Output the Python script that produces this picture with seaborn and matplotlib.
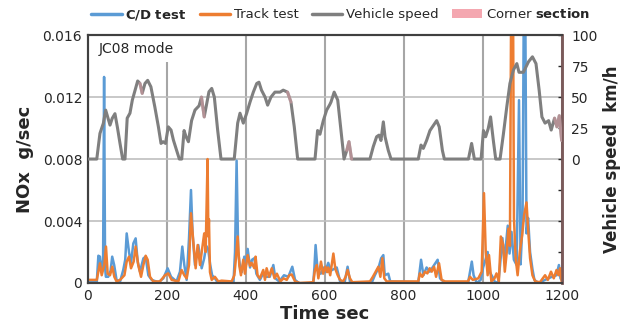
import matplotlib
matplotlib.use("Agg")
import matplotlib.pyplot as plt
from matplotlib.lines import Line2D
from matplotlib.patches import Patch, Rectangle
import seaborn as sns
import pandas as pd

# ---------------- data ----------------
speed_t = [0, 23, 31, 39.6, 45.5, 50.5, 56.5, 62, 69, 75, 81.8, 88.5, 94.4, 100, 107, 113, 120, 126.5, 132.4, 138,
           145, 151.8, 160, 170, 179, 185.6, 191, 197, 204, 211, 217, 225, 232, 238, 244, 249, 255, 263, 271.6, 282,
           288, 295, 301, 307, 314, 320.6, 329, 337.5, 371, 379.7, 385.6, 394, 402.5, 411, 419.3, 428, 433.6, 440,
           449, 455.6, 464, 474, 487, 495, 506, 514.6, 523, 531.6, 575.5, 582, 588, 596.5, 605, 613, 616, 624, 633,
           641, 649, 656, 661.5, 668, 714.6, 723, 731.5, 737.5, 742.5, 748.5, 752.8, 761, 768, 837, 843.8, 849.7,
           858, 866.5, 875, 883.5, 890, 898, 903, 964, 972, 979, 996, 1002, 1007.5, 1014, 1020, 1027, 1033, 1044,
           1052.4, 1061, 1069, 1078, 1086.5, 1092, 1103, 1116, 1126, 1135, 1143, 1150, 1158, 1167, 1173.5, 1182,
           1188, 1194, 1200]
speed_v = [0, 0, 20.7, 28.8, 39.5, 34, 27.4, 32.8, 36.6, 26, 12.6, 0, 0, 33, 37, 47.6, 55.6, 63, 61, 53,
           61, 63.5, 58.3, 42, 26, 12.6, 14, 12.6, 26, 23.4, 15.3, 7, 0, 0, 23, 18, 14, 31, 39.5, 43,
           50, 34, 44, 54.3, 57, 50, 23.4, 0, 0, 29, 37, 29, 37, 46, 54, 61, 62, 55.6,
           50, 43.5, 50, 54, 54, 55.6, 54, 46, 26, 0, 0, 23, 20, 31, 39.5, 44, 46, 54, 47.6,
           23.4, 0, 7, 14, 0, 0, 10, 18, 19.3, 15, 30, 18, 7, 0, 0, 11.3, 8.6,
           15, 23, 27, 31, 26, 7, 0, 0, 12.6, 0, 0, 23, 18, 24.5, 34, 15, 0, 0,
           20, 42, 61, 72, 77, 70, 70, 78.5, 82.5, 77, 55.6, 34, 29, 31, 23.4, 33,
           26, 35, 15]

# C/D test NOx, units of 1e-3 g/sec
cd_t = [0, 23, 27, 31, 35, 39, 41.5, 44, 46, 52, 58, 62, 67, 73, 82, 90, 95, 98.7, 104.6, 109.6, 115.5, 121.4,
        126.5, 132.4, 141, 146.7, 153.5, 162, 179, 191.5, 202.4, 211, 225, 233.6, 239.5, 244.6, 250.5, 256.5,
        261.5, 265.7, 271.6, 280, 288.5, 295, 300, 305, 310, 315, 322, 330, 369, 373, 377, 381, 386, 390, 396.5,
        401, 405, 411, 416, 422, 427, 436, 444, 452, 461, 470, 475, 485, 497, 508, 518, 525, 537, 571, 574, 577,
        582, 590, 598, 601, 609, 616, 630.5, 639, 651, 658, 664, 675, 718, 727, 736, 743, 748.5, 752, 761, 766,
        837, 844, 850, 858, 866, 877, 886, 892, 905, 963, 972.5, 977, 985, 995, 1001, 1006, 1012.6, 1018, 1027,
        1032, 1040, 1044, 1050, 1055, 1063.5, 1068, 1073, 1079, 1086, 1092, 1096, 1101, 1104, 1108, 1111, 1115,
        1120, 1126, 1131, 1141, 1158, 1175, 1187, 1193, 1197, 1200]
cd_v = [0.05, 0.05, 1.76, 1.7, 0.7, 1.5, 13.3, 1.0, 0.4, 0.4, 0.8, 1.7, 1.16, 0.2, 0.1, 0.84, 1.5, 3.2, 2.0, 1.27,
        2.55, 2.88, 1.38, 0.73, 1.59, 1.7, 0.5, 0.2, 0.05, 0.3, 0.95, 0.4, 0.1, 0.73, 2.35, 1.16, 0.2, 2.88,
        6.0, 3.1, 1.16, 2.45, 0.95, 1.6, 2.4, 2.2, 1.2, 0.5, 0.3, 0.0, 0.0, 2.0, 7.9, 2.0, 1.0, 0.7, 1.7,
        1.2, 2.2, 1.0, 1.5, 1.6, 0.6, 0.2, 0.6, 0.4, 0.4, 1.16, 0.3, 0.1, 0.5, 0.4, 1.05, 0.2, -0.05, -0.05, 1.0,
        2.45, 0.8, 0.6, 1.0, 0.7, 1.3, 0.8, 1.0, 0.1, 0.1, 1.05, 0.1, -0.05, -0.05, 0.5, 0.95, 1.6, 1.8, 0.5,
        0.6, 0.1, 0.05, 1.5, 0.5, 1.0, 0.73, 1.16, 1.5, 0.3, 0.0, 0.0, 1.38, 0.5, 0.0, 0.2, 1.0, 1.4, 2.0, 0.7,
        0.3, 0.0, 0.1, 1.16, 2.9, 1.4, 3.7, 1.9, 3.3, 1.5, 1.16, 11.8, 1.2, 4.0, 17.5, 17.5, 3.2, 4.2, 2.0, 0.9,
        0.2, 0.0, 0.2, 0.4, 0.5, 1.16, 0.3, 0.2]

# Track test NOx, units of 1e-3 g/sec
tr_t = [0, 23, 27, 31, 35.4, 42, 46.3, 50.5, 56.5, 62.3, 67.4, 73, 82, 93, 98.7, 104.6, 109.6, 116.4, 121.4, 128,
        135, 141, 146.7, 151.8, 157.7, 166, 183, 195.7, 204, 212.6, 229.5, 237.8, 244.6, 250.5, 256.5, 261.5,
        267.4, 273.3, 278.4, 284.3, 290, 295, 298.6, 303.5, 305.5, 307, 309.6, 314, 322, 330.7, 339, 364.5,
        371.3, 375, 379.7, 384, 388, 394, 398, 405, 411, 415, 422, 425, 430, 436, 444.5, 448.8, 453, 459, 466,
        473, 479, 487.8, 496, 504, 510, 516.4, 525, 537.5, 571, 575.4, 580, 584, 590.6, 596, 602, 606, 609, 614,
        622, 627, 633, 639, 647, 653, 658, 664, 670, 714.6, 722, 729, 736, 741, 746, 751, 757, 837, 841, 847,
        854, 860, 866, 871, 877, 882, 889.5, 896, 905, 963, 968, 975, 989, 997.5, 1003.3, 1007.7, 1012.6, 1016,
        1022, 1030, 1035, 1041, 1046, 1052, 1056, 1061, 1065, 1069, 1072, 1077, 1079.2, 1083.5, 1088.5, 1094,
        1100, 1105, 1111, 1115, 1120, 1126, 1133, 1145, 1158, 1165, 1173, 1180, 1187, 1192, 1196, 1200]
tr_v = [0.2, 0.2, 0.73, 1.27, 0.5, 1.16, 2.35, 0.6, 0.5, 1.05, 0.4, 0.1, 0.2, 0.5, 1.38, 1.7, 0.95, 1.38, 2.35, 1.16,
        0.4, 1.16, 1.76, 1.5, 0.4, 0.1, 0.1, 0.5, 0.62, 0.2, 0.1, 0.84, 0.5, 0.3, 1.16, 4.5,
        2.67, 0.95, 2.45, 1.16, 2.25, 3.2, 2.0, 8.0, 3.0, 4.1, 0.7, 0.2, 0.4, 0.1, 0.15, 0.1,
        0.5, 1.5, 3.0, 1.1, 0.5, 1.5, 0.6, 1.8, 1.1, 1.3, 0.95, 1.7, 0.5, 0.3, 0.84, 0.2, 0.95, 0.4, 0.95,
        0.3, 0.6, 0.1, 0.3, 0.2, 0.5, 0.55, 0.1, 0.0, 0.05, 0.84, 1.16, 0.3, 1.38, 0.6, 1.05, 0.7, 1.0, 0.5,
        1.9, 0.9, 0.5, 0.2, 0.1, 0.4, 0.84, 0.3, 0.05, 0.1, 0.4, 0.73, 1.05, 0.4, 1.6, 0.3, 0.1, 0.1, 0.62, 0.4,
        0.73, 0.62, 0.95, 0.73, 1.05, 0.4, 1.27, 0.2, 0.1, 0.1, 0.4, 0.2, 0.3, 0.73, 5.8, 2.0, 0.5, 1.8,
        0.1, 0.3, 0.62, 0.1, 3.0, 2.45, 0.73, 2.0, 3.5, 2.4, 17.5, 17.5, 4.2, 1.6, 0.5, 2.0,
        3.1, 4.4, 5.2, 3.5, 1.6, 0.5, 0.1, 0.05, 0.5, 0.2, 0.73, 0.3, 0.84, 0.5, 0.95, 0.1]

corner_start = [130, 284, 500, 650, 1178]
corner_end = [142, 300, 520, 668, 1200]

x_ticks = [0, 200, 400, 600, 800, 1000, 1200]
nox_ticks = [0, 0.004, 0.008, 0.012, 0.016]
nox_labels = ["0", "0.004", "0.008", "0.012", "0.016"]
spd_ticks = [-75, -50, -25, 0, 25, 50, 75, 100]
spd_labels = ["", "", "", "0", "25", "50", "75", "100"]

# ---------------- frames ----------------
cd = pd.DataFrame({"t": cd_t, "nox": [v * 1e-3 for v in cd_v]})
tr = pd.DataFrame({"t": tr_t, "nox": [v * 1e-3 for v in tr_v]})
sp = pd.DataFrame({"t": speed_t, "v": speed_v})

BLUE = "#5B9BD5"
ORANGE = "#ED7D31"
GRAY = "#7F7F7F"
PINK = "#F4A7B0"

sns.set_style("white")
plt.rcParams["font.family"] = ["DejaVu Sans"]

fig = plt.figure(figsize=(6.22, 3.27), dpi=100)
ax = fig.add_axes([0.141, 0.1346, 0.762, 0.758])

ax.set_axisbelow(True)
ax.grid(True, axis="x", color="#A6A6A6", lw=1.5)
ax.grid(True, axis="y", color="#BFBFBF", lw=1.2)

sns.lineplot(data=cd, x="t", y="nox", ax=ax, color=BLUE, lw=1.8, estimator=None, sort=False, zorder=2)
sns.lineplot(data=tr, x="t", y="nox", ax=ax, color=ORANGE, lw=1.8, estimator=None, sort=False, zorder=3)

ax.set_xlim(0, 1200)
ax.set_ylim(0, 0.016)
ax.set_xticks(x_ticks)
ax.set_xticklabels([str(x) for x in x_ticks])
ax.set_yticks(nox_ticks)
ax.set_yticklabels(nox_labels)
ax.tick_params(axis="both", length=0, labelsize=10, colors="#262626", pad=4)
ax.set_xlabel("Time sec", fontsize=13, fontweight="bold", labelpad=2)
ax.set_ylabel("NOx  g/sec", fontsize=13, fontweight="bold", labelpad=6)

# "JC08 mode" label box
ax.add_patch(Rectangle((0, 0.891), 0.199, 0.109, transform=ax.transAxes,
                       facecolor="white", edgecolor="none", zorder=1))
ax.text(0.024, 0.945, "JC08 mode", transform=ax.transAxes, fontsize=10,
        va="center", ha="left", color="#262626", zorder=4)

ax2 = ax.twinx()
sns.lineplot(data=sp, x="t", y="v", ax=ax2, color=GRAY, lw=2.2, estimator=None, sort=False, zorder=3)
for s, e in zip(corner_start, corner_end):
    seg = sp[(sp["t"] >= s) & (sp["t"] <= e)]
    sns.lineplot(data=seg, x="t", y="v", ax=ax2, color=PINK, lw=2.2, alpha=0.45,
                 estimator=None, sort=False, zorder=4)
ax2.set_ylim(-100, 100)
ax2.set_xlim(0, 1200)
ax2.set_yticks(spd_ticks)
ax2.set_yticklabels(spd_labels)
ax2.tick_params(axis="y", direction="in", length=3, width=1, labelsize=10, colors="#262626", pad=7)
ax2.set_ylabel("Vehicle speed  km/h", fontsize=12, fontweight="bold", labelpad=4)
ax2.set_xlabel("")

for a in (ax, ax2):
    for side in ("left", "bottom", "top"):
        a.spines[side].set_color("#404040")
        a.spines[side].set_linewidth(1.5)
    a.spines["right"].set_color("#7A5A5A")
    a.spines["right"].set_linewidth(1.8)

handles = [Line2D([0], [0], color=BLUE, lw=2.5),
           Line2D([0], [0], color=ORANGE, lw=2.5),
           Line2D([0], [0], color=GRAY, lw=2.5),
           Patch(facecolor=PINK, edgecolor="none")]
labels = [r"$\mathbf{C/D\ test}$", "Track test", "Vehicle speed", r"Corner $\mathbf{section}$"]
fig.legend(handles, labels, loc="center", bbox_to_anchor=(0.548, 0.955), ncol=4, frameon=False,
           fontsize=9.5, handlelength=2.3, handletextpad=0.3, columnspacing=1.0)

fig.savefig("out.png", dpi=100)
